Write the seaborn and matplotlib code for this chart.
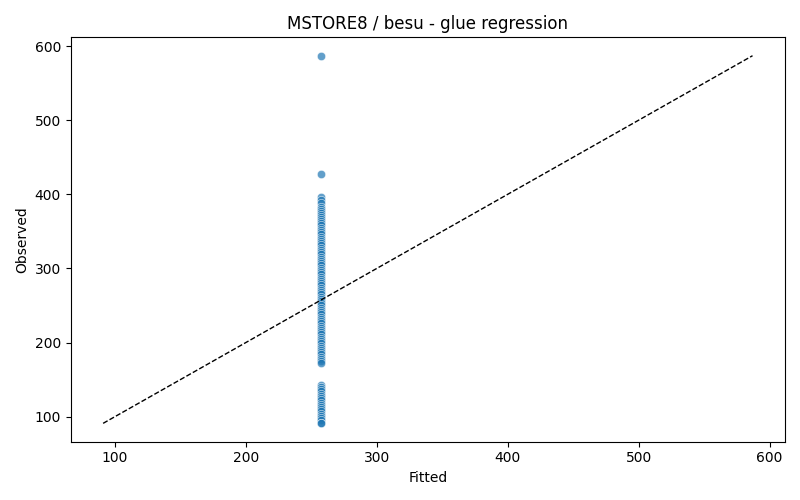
import matplotlib
matplotlib.use("Agg")
import matplotlib.pyplot as plt
import seaborn as sns
import pandas as pd

# observed gas per sample, fitted value is the same for every sample
observed = [
    587, 428, 397, 392, 388, 383, 380, 378, 375, 372, 370, 367, 364, 361,
    358, 355, 352, 349, 346, 343, 340, 337, 334, 331, 328, 325, 322, 319,
    316, 313, 310, 307, 304, 301, 298, 295, 292, 289, 286, 283, 280, 277,
    274, 271, 268, 265, 262, 259, 256, 253, 250, 247, 244, 241, 238, 235,
    232, 229, 226, 223, 220, 217, 214, 211, 208, 205, 202, 199, 196, 193,
    190, 187, 184, 181, 178, 175, 173,
    143, 140, 137, 134, 131, 128, 125, 122, 119, 116, 113, 110, 107, 104,
    101, 98, 95, 92, 91,
]
fitted_value = 257.5
fitted = [fitted_value] * len(observed)

df = pd.DataFrame({"fitted": fitted, "observed": observed})

fig, ax = plt.subplots(figsize=(8, 5), dpi=100)
sns.scatterplot(data=df, x="fitted", y="observed", ax=ax, alpha=0.7,
                color="#1f77b4")

lo = min(df["fitted"].min(), df["observed"].min())
hi = max(df["fitted"].max(), df["observed"].max())
ax.plot([lo, hi], [lo, hi], "k--", linewidth=1)

ax.set_title("MSTORE8 / besu - glue regression")
ax.set_xlabel("Fitted")
ax.set_ylabel("Observed")
plt.tight_layout()
plt.savefig("out.png")
plt.close()
